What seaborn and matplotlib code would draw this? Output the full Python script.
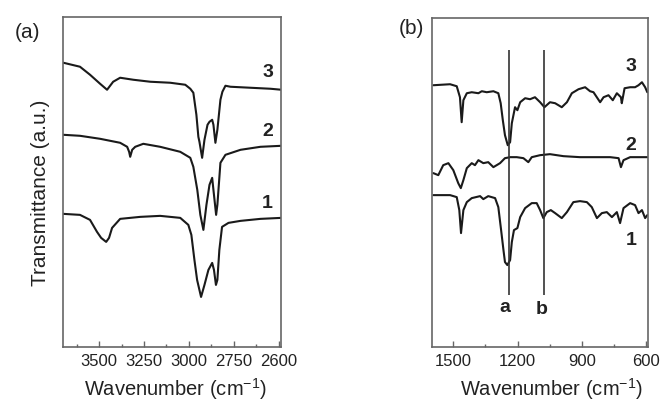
import matplotlib
matplotlib.use("Agg")
import numpy as np
import pandas as pd
import matplotlib.pyplot as plt
import seaborn as sns
from matplotlib.ticker import FixedLocator

# ---------------- data: panel (a) ----------------
wn_a3 = [3700, 3607, 3551, 3495, 3456, 3422, 3383, 3310, 3215, 3104, 3020, 2992, 2975,
         2958, 2947, 2941, 2926, 2913, 2896, 2885, 2870, 2863, 2852, 2841, 2824, 2813,
         2796, 2768, 2657, 2545, 2484]
t_a3 = [284, 280, 272, 263, 257, 265, 269, 267, 265, 264, 262, 258, 254,
        232, 210, 205, 189, 207, 222, 225, 227, 222, 204, 217, 247, 255,
        261, 260, 259, 258, 257]

wn_a2 = [3700, 3607, 3495, 3383, 3344, 3333, 3327, 3316, 3299, 3254, 3160, 3048, 2992,
         2975, 2953, 2936, 2919, 2902, 2885, 2870, 2863, 2848, 2841, 2824, 2796, 2712,
         2601, 2484]
t_a2 = [212, 211, 208, 204, 200, 195, 190, 197, 200, 203, 200, 195, 189,
        180, 157, 132, 117, 142, 162, 169, 157, 132, 142, 184, 192, 197,
        200, 201]

wn_a1 = [3700, 3607, 3551, 3512, 3489, 3461, 3445, 3428, 3383, 3271, 3160, 3048, 3003,
         2986, 2969, 2954, 2932, 2913, 2891, 2870, 2860, 2849, 2841, 2830, 2815, 2779,
         2712, 2601, 2484]
t_a1 = [133, 132, 127, 115, 109, 105, 109, 119, 128, 130, 131, 129, 122,
        112, 87, 67, 50, 62, 77, 84, 77, 62, 67, 97, 120, 124,
        126, 128, 129]

ticks_a = [3500, 3250, 3000, 2750, 2500]
ticklabels_a = ["3500", "3250", "3000", "2750", "2600"]
minor_a = [3625, 3375, 3125, 2875, 2625]

# ---------------- data: panel (b) ----------------
wn_b3 = [1593, 1515, 1484, 1469, 1461, 1453, 1437, 1414, 1383, 1367, 1344, 1313, 1290,
         1279, 1269, 1259, 1246, 1235, 1227, 1212, 1201, 1188, 1165, 1142, 1119, 1095,
         1075, 1049, 1025, 994, 970, 947, 916, 885, 862, 846, 815, 799, 776, 756, 737,
         718, 714, 701, 675, 652, 636, 620, 605, 595]
t_b3 = [262, 263, 261, 250, 225, 247, 254, 255, 254, 256, 255, 256, 254,
        244, 227, 212, 202, 205, 224, 240, 237, 245, 249, 248, 250, 245,
        240, 245, 244, 240, 245, 254, 258, 260, 256, 255, 245, 250, 252, 247, 254,
        250, 244, 259, 260, 260, 262, 265, 260, 255]

wn_b2 = [1593, 1570, 1547, 1523, 1500, 1477, 1465, 1453, 1437, 1414, 1399, 1383, 1360,
         1337, 1313, 1282, 1259, 1235, 1204, 1173, 1150, 1134, 1095, 1049, 986, 909,
         830, 768, 729, 718, 706, 675, 595]
t_b2 = [174, 172, 182, 184, 177, 164, 159, 167, 179, 184, 182, 187, 184,
        185, 180, 184, 189, 190, 190, 189, 185, 190, 192, 193, 191, 190,
        190, 190, 189, 180, 187, 190, 190]

wn_b1 = [1593, 1515, 1484, 1472, 1464, 1453, 1437, 1414, 1375, 1360, 1337, 1305, 1290,
         1277, 1266, 1259, 1248, 1235, 1227, 1217, 1201, 1188, 1165, 1134, 1111, 1095,
         1080, 1064, 1045, 1025, 994, 970, 940, 909, 877, 854, 830, 807, 784, 760,
         737, 722, 706, 675, 652, 636, 620, 605, 595]
t_b1 = [152, 152, 150, 137, 114, 137, 145, 149, 151, 148, 151, 149, 140,
        117, 97, 85, 82, 87, 105, 117, 119, 130, 139, 144, 144, 137,
        129, 135, 137, 134, 129, 135, 145, 146, 145, 140, 129, 134, 135, 130,
        135, 124, 139, 144, 142, 134, 137, 129, 132]

ticks_b = [1500, 1200, 900, 600]
ticklabels_b = ["1500", "1200", "900", "600"]
minor_b = [1350, 1050, 750]

marker_wn = [1240, 1076]
marker_names = ["a", "b"]
marker_top = [297, 297]
marker_bottom = [52, 52]
marker_label_wn = [1262, 1086]
marker_label_t = [40, 38]

curve_names = ["3", "2", "1"]
label_t_a = [274, 215, 143]
label_t_b = [281, 202, 107]

# ---------------- style ----------------
sns.set_style("white")
plt.rcParams["font.family"] = ["Liberation Sans", "DejaVu Sans"]
plt.rcParams["mathtext.fontset"] = "custom"
plt.rcParams["mathtext.rm"] = "Liberation Sans"
plt.rcParams["mathtext.it"] = "Liberation Sans:italic"

LINE = "#1a1a1a"
FRAME = "#666666"
TXT = "#222222"

fig = plt.figure(figsize=(6.6, 4.03), dpi=100)
axa = fig.add_axes([0.0959, 0.139, 0.3294, 0.8196])
axb = fig.add_axes([0.655, 0.139, 0.3264, 0.8156])

for wn, t in [(wn_a3, t_a3), (wn_a2, t_a2), (wn_a1, t_a1)]:
    df = pd.DataFrame({"wn": wn, "T": t})
    sns.lineplot(data=df, x="wn", y="T", ax=axa, color=LINE, lw=1.5,
                 estimator=None, sort=True)
for wn, t in [(wn_b3, t_b3), (wn_b2, t_b2), (wn_b1, t_b1)]:
    df = pd.DataFrame({"wn": wn, "T": t})
    sns.lineplot(data=df, x="wn", y="T", ax=axb, color=LINE, lw=1.5,
                 estimator=None, sort=True)

axa.set_xlim(3700, 2488)
axa.set_ylim(0, 330)
axb.set_xlim(1598, 593)
axb.set_ylim(0, 329)

# marker lines in (b)
axb.vlines(marker_wn, marker_bottom, marker_top, color="#333333", lw=1.2)
for wn, t, name in zip(marker_label_wn, marker_label_t, marker_names):
    axb.text(wn, t, name, fontsize=14, fontweight="bold", ha="center",
             va="center", color=TXT)

# curve labels
for name, ty in zip(curve_names, label_t_a):
    axa.text(2561, ty, name, fontsize=14, fontweight="bold", ha="center",
             va="center", color=TXT)
for name, ty in zip(curve_names, label_t_b):
    axb.text(672, ty, name, fontsize=14, fontweight="bold", ha="center",
             va="center", color=TXT)

for ax, tk, tl, mn in [(axa, ticks_a, ticklabels_a, minor_a),
                       (axb, ticks_b, ticklabels_b, minor_b)]:
    ax.set_xticks(tk)
    ax.set_xticklabels(tl)
    ax.xaxis.set_minor_locator(FixedLocator(mn))
    ax.set_yticks([])
    ax.tick_params(axis="x", which="both", direction="in", bottom=True,
                   top=False, color=FRAME, labelsize=12, labelcolor=TXT, pad=5)
    ax.tick_params(axis="x", which="major", length=4, width=1)
    ax.tick_params(axis="x", which="minor", length=2.5, width=1)
    for s in ax.spines.values():
        s.set_color(FRAME)
        s.set_linewidth(1.2)
    ax.set_xlabel("Wavenumber (cm$^{-1}$)", fontsize=14.5, color=TXT)
    ax.xaxis.label.set_va("center")
    ax.set_ylabel("")

axa.xaxis.set_label_coords(0.514, -0.128)
axb.xaxis.set_label_coords(0.551, -0.129)

axa.set_ylabel("Transmittance (a.u.)", fontsize=15, color=TXT)
axa.yaxis.label.set_va("center")
axa.yaxis.set_label_coords(-0.107, 0.466)

fig.text(27 / 660, 1 - 32 / 403, "(a)", fontsize=15, ha="center", va="center", color=TXT)
fig.text(411 / 660, 1 - 28 / 403, "(b)", fontsize=15, ha="center", va="center", color=TXT)

fig.savefig("out.png", dpi=100)
